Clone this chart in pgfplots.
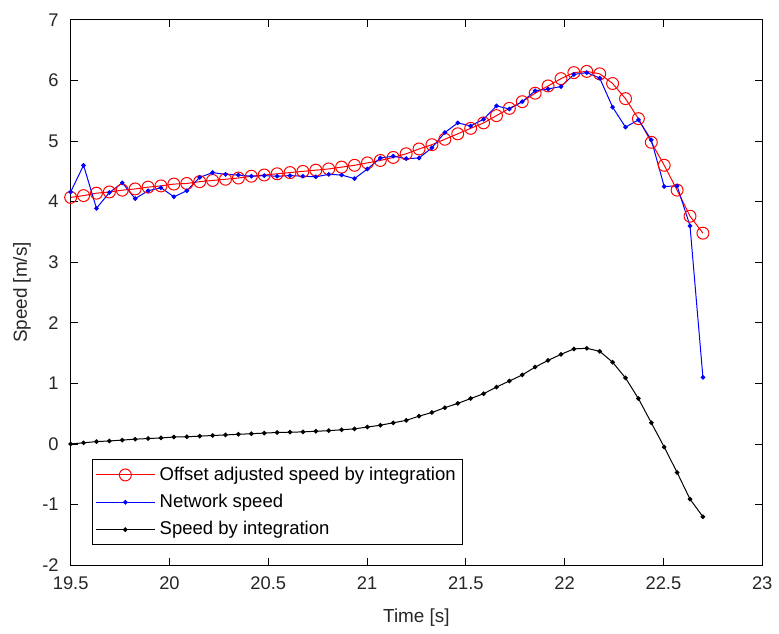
\documentclass[border=0pt]{standalone}
\usepackage{fontspec}
\setmainfont{Liberation Sans}
\usepackage{pgfplots}
\pgfplotsset{compat=1.18}
\usepackage{pgfplotstable}

% t: time [s]; off: offset adjusted; net: network; int: integration
\pgfplotstableread{
t       off   net   int
19.5000 4.07  4.16  0.00
19.5653 4.10  4.60  0.02
19.6306 4.14  3.89  0.04
19.6959 4.16  4.15  0.05
19.7612 4.19  4.31  0.065
19.8265 4.21  4.05  0.08
19.8918 4.24  4.18  0.09
19.9571 4.26  4.23  0.10
20.0224 4.29  4.08  0.115
20.0878 4.30  4.18  0.12
20.1531 4.33  4.40  0.13
20.2184 4.35  4.48  0.14
20.2837 4.37  4.45  0.15
20.3490 4.39  4.44  0.16
20.4143 4.42  4.42  0.17
20.4796 4.44  4.43  0.18
20.5449 4.46  4.42  0.19
20.6102 4.48  4.43  0.195
20.6755 4.50  4.42  0.20
20.7408 4.52  4.41  0.21
20.8061 4.54  4.45  0.22
20.8714 4.57  4.44  0.235
20.9367 4.60  4.38  0.25
21.0020 4.64  4.54  0.28
21.0673 4.68  4.72  0.31
21.1327 4.73  4.75  0.35
21.1980 4.79  4.71  0.39
21.2633 4.87  4.72  0.46
21.3286 4.94  4.89  0.52
21.3939 5.03  5.14  0.60
21.4592 5.12  5.30  0.67
21.5245 5.21  5.25  0.75
21.5898 5.30  5.36  0.83
21.6551 5.42  5.58  0.94
21.7204 5.54  5.53  1.04
21.7857 5.65  5.65  1.14
21.8510 5.79  5.83  1.27
21.9163 5.91  5.86  1.38
21.9816 6.03  5.90  1.48
22.0469 6.13  6.10  1.57
22.1122 6.15  6.13  1.58
22.1776 6.11  6.04  1.53
22.2429 5.95  5.56  1.35
22.3082 5.70  5.23  1.09
22.3735 5.37  5.35  0.75
22.4388 4.98  5.02  0.35
22.5041 4.60  4.25  -0.05
22.5694 4.19  4.26  -0.47
22.6347 3.76  3.60  -0.91
22.7000 3.48  1.10  -1.20
}\speeddata

\begin{document}
\begin{tikzpicture}
\begin{axis}[
  scale only axis,
  width=347.5pt, height=274pt,
  xmin=19.5, xmax=23, ymin=-2, ymax=7,
  xtick={19.5,20,20.5,21,21.5,22,22.5,23},
  ytick={-2,-1,0,1,2,3,4,5,6,7},
  tick align=inside,
  major tick length=3.5pt,
  axis line style={line width=0.5pt},
  every tick/.style={black, line width=0.5pt},
  /pgf/number format/assume math mode=true,
  ticklabel style={font=\fontsize{9.2}{11}\selectfont, color=black!85},
  xticklabel style={yshift=-2.5pt},
  yticklabel style={xshift=-2.5pt},
  xlabel={Time [s]},
  ylabel={Speed [m/s]},
  label style={font=\fontsize{9.5}{11}\selectfont, color=black!85},
  xlabel style={at={(axis description cs:0.5,-0.0967)}, anchor=center},
  ylabel style={at={(axis description cs:-0.0705,0.5)}, anchor=center},
  legend style={at={(axis description cs:0.0302,0.0365)}, anchor=south west,
    draw=black, line width=0.5pt, font=\fontsize{9.3}{11}\selectfont,
    inner sep=1.5pt, row sep=1.5pt},
  legend cell align=left,
  legend image code/.code={%
    \draw[mark repeat=2,mark phase=2] plot coordinates {(0pt,0pt)(15pt,0pt)(30pt,0pt)};},
]
\addplot[red, line width=0.5pt, mark=o, mark size=3pt,
         mark options={line width=0.5pt}]
  table[x=t, y=off] {\speeddata};
\addlegendentry{Offset adjusted speed by integration}
\addplot[blue, line width=0.5pt, mark=*, mark size=0.9pt]
  table[x=t, y=net] {\speeddata};
\addlegendentry{Network speed}
\addplot[black, line width=0.5pt, mark=*, mark size=0.9pt]
  table[x=t, y=int] {\speeddata};
\addlegendentry{Speed by integration}
\end{axis}
% page margins as in the reference
\path (current axis.south west) ++(-35.5pt,-34.5pt) coordinate (pa);
\path (current axis.north east) ++(6.5pt,10pt) coordinate (pb);
\path (pa) rectangle (pb);
\end{tikzpicture}
\end{document}
